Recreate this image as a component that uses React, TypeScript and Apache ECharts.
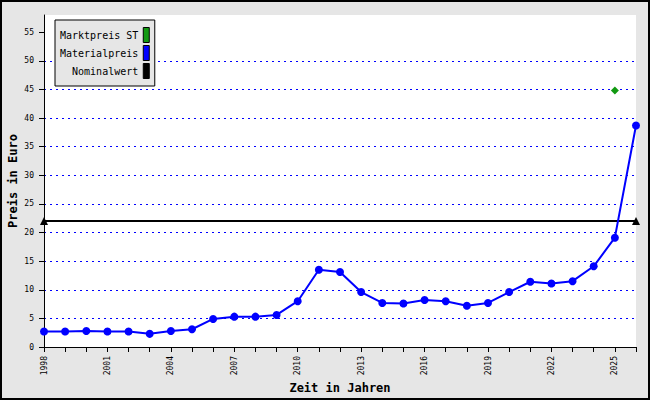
import React, { useEffect, useRef } from "react";
import * as echarts from "echarts";

const years: number[] = [
  1998, 1999, 2000, 2001, 2002, 2003, 2004, 2005, 2006, 2007, 2008, 2009, 2010,
  2011, 2012, 2013, 2014, 2015, 2016, 2017, 2018, 2019, 2020, 2021, 2022, 2023,
  2024, 2025, 2026,
];
const materialpreis: number[] = [
  2.7, 2.7, 2.8, 2.7, 2.7, 2.3, 2.8, 3.1, 4.9, 5.3, 5.3, 5.6, 8.0, 13.5, 13.1,
  9.6, 7.7, 7.6, 8.2, 8.0, 7.2, 7.7, 9.6, 11.4, 11.1, 11.5, 14.1, 19.1, 38.7,
];
const marktpreisYears: number[] = [2025];
const marktpreisValues: number[] = [44.8];
const nominalYears: number[] = [1998, 2026];
const nominalValues: number[] = [22, 22];
const yTicks: number[] = [0, 5, 10, 15, 20, 25, 30, 35, 40, 45, 50, 55];

const MONO = "'DejaVu Sans Mono', 'Liberation Mono', monospace";

export default function App() {
  const ref = useRef<HTMLDivElement>(null);
  useEffect(() => {
    if (!ref.current) return;
    const chart = echarts.init(ref.current, undefined, { renderer: "svg" });
    chart.setOption({
      animation: false,
      backgroundColor: "#e6e6e6",
      grid: {
        left: 44,
        right: 14,
        top: 15,
        bottom: 53,
        show: true,
        backgroundColor: "#ffffff",
        borderWidth: 0,
        containLabel: false,
        outerBoundsMode: "none",
      },
      graphic: [
        {
          type: "rect",
          shape: { x: 1, y: 1, width: 648, height: 398 },
          style: { fill: "none", stroke: "#000", lineWidth: 2 },
          z: 100,
        },
      ],
      legend: {
        orient: "vertical",
        left: 55,
        top: 20,
        align: "right",
        icon: "rect",
        itemWidth: 6,
        itemHeight: 15,
        itemGap: 2,
        padding: [7, 5, 7, 5],
        backgroundColor: "#e6e6e6",
        borderColor: "#000",
        borderWidth: 1,
        itemStyle: { borderColor: "#000", borderWidth: 1, opacity: 1 },
        textStyle: { fontFamily: MONO, fontSize: 10, color: "#000" },
        data: ["Marktpreis ST", "Materialpreis", "Nominalwert"],
      },
      xAxis: {
        type: "value",
        min: 1998,
        max: 2026,
        interval: 1,
        name: "Zeit in Jahren",
        nameLocation: "middle",
        nameGap: 35,
        nameMoveOverlap: false,
        nameTextStyle: { fontFamily: MONO, fontSize: 12, fontWeight: "bold", color: "#000" },
        axisLine: { show: true, onZero: false, lineStyle: { color: "#000", width: 1 } },
        axisTick: { show: true, inside: false, length: 5, lineStyle: { color: "#000" } },
        axisLabel: {
          rotate: 90,
          margin: 9,
          fontFamily: MONO,
          fontSize: 8,
          color: "#000",
          showMinLabel: true,
          showMaxLabel: true,
          formatter: (v: number) => ((v - 1998) % 3 === 0 && v < 2026 ? String(v) : ""),
        },
        splitLine: { show: false },
      },
      yAxis: {
        type: "value",
        min: 0,
        max: 58,
        interval: 5,
        name: "Preis in Euro",
        nameLocation: "middle",
        nameGap: 25,
        nameMoveOverlap: false,
        nameTextStyle: { fontFamily: MONO, fontSize: 12, fontWeight: "bold", color: "#000" },
        axisLine: { show: true, lineStyle: { color: "#000", width: 1 } },
        axisTick: { show: true, length: 5, lineStyle: { color: "#000" }, customValues: yTicks },
        axisLabel: {
          margin: 10,
          fontFamily: MONO,
          fontSize: 8,
          color: "#000",
          customValues: yTicks,
        },
        splitLine: {
          show: true,
          showMinLine: false,
          showMaxLine: false,
          lineStyle: { color: "#0000ff", width: 1, type: [2, 4] },
        },
      },
      series: [
        {
          name: "Marktpreis ST",
          type: "scatter",
          symbol: "diamond",
          symbolSize: 8,
          itemStyle: { color: "#119911", opacity: 1 },
          data: marktpreisYears.map((y, i) => [y, marktpreisValues[i]]),
          z: 5,
        },
        {
          name: "Materialpreis",
          type: "line",
          symbol: "circle",
          symbolSize: 8,
          showAllSymbol: true,
          itemStyle: { color: "#0000ff" },
          lineStyle: { color: "#0000ff", width: 2 },
          data: years.map((y, i) => [y, materialpreis[i]]),
          z: 4,
        },
        {
          name: "Nominalwert",
          type: "line",
          symbol: "triangle",
          symbolSize: 8,
          itemStyle: { color: "#000000" },
          lineStyle: { color: "#000000", width: 2 },
          data: nominalYears.map((y, i) => [y, nominalValues[i]]),
          z: 3,
        },
      ],
    });
    return () => chart.dispose();
  }, []);
  return (
    <div
      ref={ref}
      style={{ position: "fixed", left: 0, top: 0, width: 650, height: 400 }}
    />
  );
}
